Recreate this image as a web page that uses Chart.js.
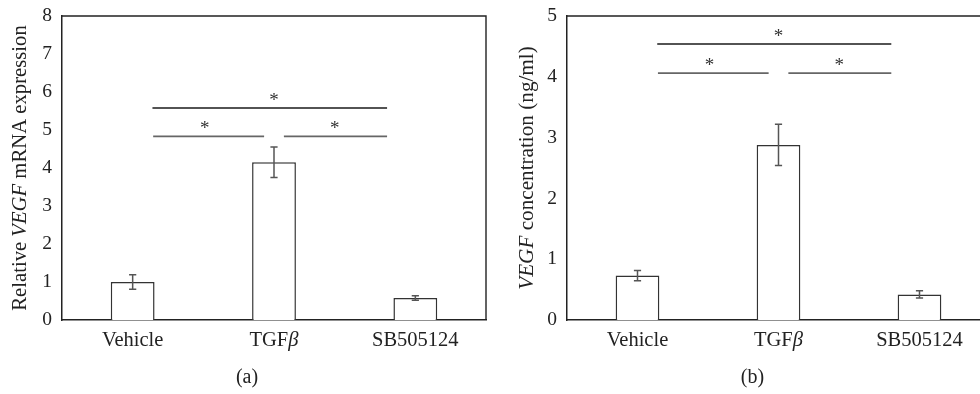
<!DOCTYPE html>
<html><head><meta charset="utf-8">
<script src="https://cdn.jsdelivr.net/npm/chart.js@4.4.1/dist/chart.umd.min.js"></script>
<style>
html,body{margin:0;padding:0;width:980px;height:394px;overflow:hidden;background:#fff;}
canvas{position:absolute;top:0;}
#cA{left:8px;} #cB{left:515px;}
</style></head><body>
<canvas id="cA" width="479" height="394"></canvas>
<canvas id="cB" width="476" height="394"></canvas>
<script>
// ---- data ----
const categories = ['Vehicle', 'TGFβ', 'SB505124'];
const mrnaMeans = [1.0, 4.15, 0.58];
const mrnaErrors = [0.19, 0.40, 0.06];
const vegfMeans = [0.73, 2.88, 0.42];
const vegfErrors = [0.085, 0.34, 0.06];
const mrnaTicks = [0, 1, 2, 3, 4, 5, 6, 7, 8];
const vegfTicks = [0, 1, 2, 3, 4, 5];
// significance brackets: heights (data units), start/end (category index units), asterisk position
const mrnaSigLevels = [5.58, 4.83, 4.83];
const vegfSigLevels = [4.54, 4.06, 4.06];
const sigFrom = [0.14, 0.145, 1.07];
const sigTo = [1.80, 0.93, 1.80];
const sigStar = [1.0, 0.51, 1.43];
const mrnaTitle = [['Relative ', 0], ['VEGF', 1], [' mRNA expression', 0]];
const vegfTitle = [['VEGF', 1], [' concentration (ng/ml)', 0]];

const FONT = '"Liberation Serif", "Times New Roman", serif';
const INK = '#222';

function fontStr(it, size) { return (it ? 'italic ' : '') + size + 'px ' + FONT; }
function splitGreek(s) {
  const parts = []; let cur = ''; let curIt = null;
  for (const ch of s) {
    const it = /[\u0370-\u03ff]/.test(ch) ? 1 : 0;
    if (curIt === null || it === curIt) { cur += ch; curIt = it; }
    else { parts.push([cur, curIt]); cur = ch; curIt = it; }
  }
  if (cur) parts.push([cur, curIt]);
  return parts;
}
function drawRich(ctx, parts, size, cx, y) {
  let w = 0;
  for (const [t, it] of parts) { ctx.font = fontStr(it, size); w += ctx.measureText(t).width; }
  let x = cx - w / 2;
  ctx.textAlign = 'left';
  for (const [t, it] of parts) { ctx.font = fontStr(it, size); ctx.fillText(t, x, y); x += ctx.measureText(t).width; }
}

const decor = {
  id: 'decor',
  afterDatasetsDraw(chart, args, o) {
    const ctx = chart.ctx, xs = chart.scales.x, ys = chart.scales.y, ca = chart.chartArea;
    ctx.save();
    // frame top + right
    ctx.strokeStyle = INK; ctx.lineWidth = 1.4;
    ctx.beginPath(); ctx.moveTo(ca.left, ca.top); ctx.lineTo(ca.right, ca.top); ctx.lineTo(ca.right, ca.bottom); ctx.stroke();
    // error bars
    const meta = chart.getDatasetMeta(0);
    const vals = chart.data.datasets[0].data;
    ctx.strokeStyle = '#555'; ctx.lineWidth = 1.5;
    o.errors.forEach((e, i) => {
      const x = meta.data[i].x;
      const y1 = ys.getPixelForValue(vals[i] + e), y2 = ys.getPixelForValue(vals[i] - e);
      ctx.beginPath();
      ctx.moveTo(x, y1); ctx.lineTo(x, y2);
      ctx.moveTo(x - 3.6, y1); ctx.lineTo(x + 3.6, y1);
      ctx.moveTo(x - 3.6, y2); ctx.lineTo(x + 3.6, y2);
      ctx.stroke();
    });
    // significance lines
    o.levels.forEach((lv, k) => {
      const y = ys.getPixelForValue(lv);
      const x1 = xs.getPixelForValue(sigFrom[k]), x2 = xs.getPixelForValue(sigTo[k]);
      ctx.strokeStyle = k === 0 ? '#1a1a1a' : '#666';
      ctx.lineWidth = k === 0 ? 1.4 : 1.8;
      ctx.beginPath(); ctx.moveTo(x1, y); ctx.lineTo(x2, y); ctx.stroke();
      ctx.fillStyle = '#333'; ctx.font = fontStr(0, 19);
      ctx.textAlign = 'center'; ctx.textBaseline = 'alphabetic';
      ctx.fillText('*', xs.getPixelForValue(sigStar[k]), y - 2);
    });
    ctx.restore();
  },
  afterDraw(chart, args, o) {
    const ctx = chart.ctx, xs = chart.scales.x, ca = chart.chartArea;
    ctx.save();
    ctx.fillStyle = INK; ctx.textBaseline = 'alphabetic';
    chart.data.labels.forEach((lab, i) => {
      drawRich(ctx, splitGreek(lab), 20.5, xs.getPixelForTick(i), ca.bottom + 26);
    });
    ctx.translate(17.5, (ca.top + ca.bottom) / 2);
    ctx.rotate(-Math.PI / 2);
    drawRich(ctx, o.titleParts, o.titleSize, 0, 0);
    ctx.restore();
  }
};

function makeChart(id, values, errors, levels, ticks, titleParts, titleSize, caption, yWidth) {
  return new Chart(document.getElementById(id), {
    type: 'bar',
    data: { labels: categories, datasets: [{ data: values, backgroundColor: '#fff', borderColor: '#333', borderWidth: 1.5, barPercentage: 0.31, categoryPercentage: 1 }] },
    options: {
      responsive: false, animation: false, devicePixelRatio: 1,
      layout: { padding: { top: 16, right: 1, left: 0, bottom: 0 } },
      plugins: {
        legend: { display: false }, tooltip: { enabled: false },
        title: { display: true, position: 'bottom', text: caption, font: { family: FONT, size: 20, weight: 'normal' }, color: INK, padding: { top: 0, bottom: 4 } },
        decor: { errors, levels, titleParts, titleSize }
      },
      scales: {
        x: { grid: { display: false, drawTicks: false }, border: { display: true, color: INK, width: 1.5 }, ticks: { display: false }, afterFit(s) { s.height = 46; } },
        y: { min: ticks[0], max: ticks[ticks.length - 1], afterBuildTicks(s) { s.ticks = ticks.map(v => ({ value: v })); },
             ticks: { font: { family: FONT, size: 19.5 }, color: INK, padding: 10 },
             grid: { display: false, drawTicks: false }, border: { display: true, color: INK, width: 1.5 },
             afterFit(s) { s.width = yWidth; s.paddingTop = 0; s.paddingBottom = 0; } }
      }
    },
    plugins: [decor]
  });
}

makeChart('cA', mrnaMeans, mrnaErrors, mrnaSigLevels, mrnaTicks, mrnaTitle, 20.7, '(a)', 54);
makeChart('cB', vegfMeans, vegfErrors, vegfSigLevels, vegfTicks, vegfTitle, 21.2, '(b)', 52);
</script>
</body></html>
